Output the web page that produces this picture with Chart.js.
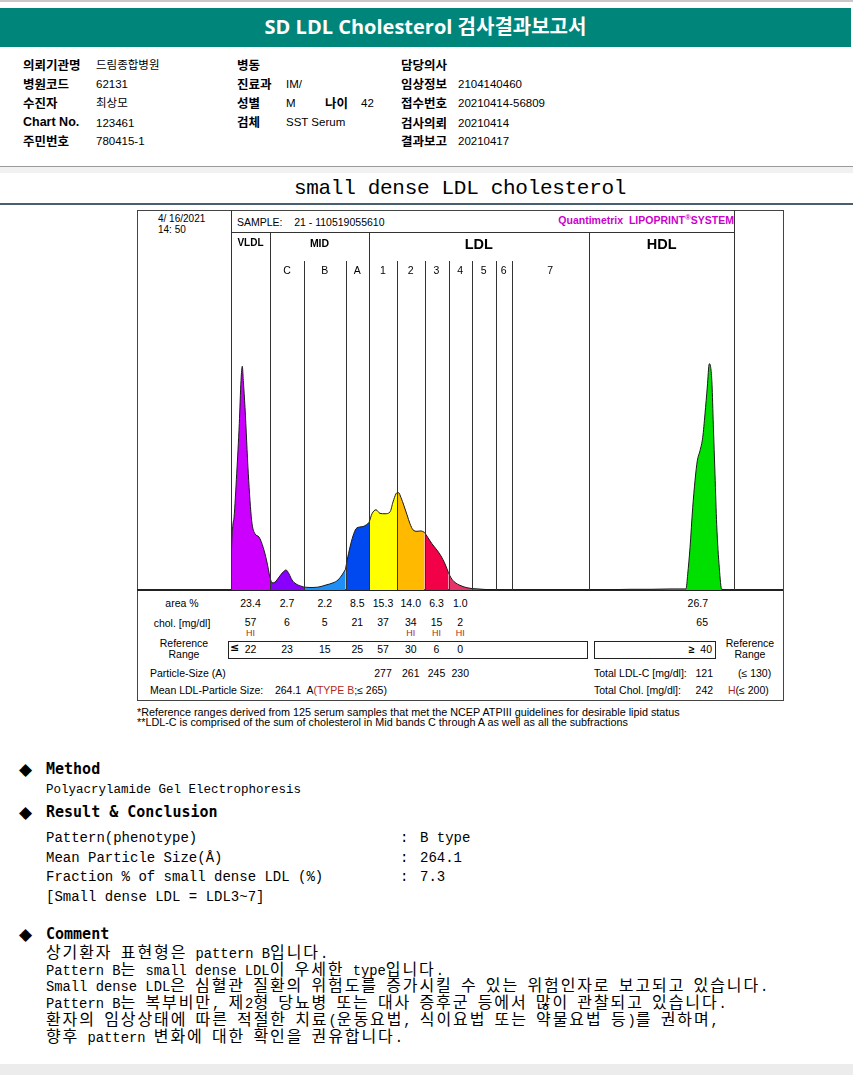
<!DOCTYPE html>
<html>
<head>
<meta charset="utf-8">
<script src="https://cdn.jsdelivr.net/npm/chart.js@4.4.0/dist/chart.umd.min.js"></script>
<style>
  body { margin: 0; background: #fff; }
  #page { position: relative; width: 853px; height: 1075px; overflow: hidden; font-family: "Liberation Sans", Arial, sans-serif; color: #000; }
  .t { position: absolute; white-space: pre; line-height: 16px; }
  .ln { position: absolute; background: #333; }
  .lb { font: bold 12.5px "Noto Sans CJK KR", sans-serif; margin-top: -2px; }
  .lbl { font: bold 12.5px "Liberation Sans", Arial, sans-serif; }
  .vl { font-size: 11.5px; font-family: "Liberation Sans", "Noto Sans CJK KR", sans-serif; }
  .sm { font-size: 10.5px; }
  .tb { font-size: 10.5px; }
  .hi { font-size: 9px; color: #b02a1a; }
  .red { color: #b02a1a; }
  .mono { font-family: "Liberation Mono", "Noto Sans CJK KR", monospace; }
  .head { font: bold 15px "DejaVu Sans Mono", "Noto Sans CJK KR", monospace; }
  .dia { font: 17px "DejaVu Sans", sans-serif; }
  .cl { left: 46px; font-size: 13.8px; line-height: 16px; }
  .k { font-size: 16px; letter-spacing: 1.9px; line-height: 16px; }
  #chartBox { position: absolute; left: 231px; top: 232px; width: 504px; height: 358px; }
</style>
</head>
<body>
<div id="page">
  <!-- top banner -->
  <div class="ln" style="left:0;top:0;width:853px;height:2px;background:#c8c8c8"></div>
  <div style="position:absolute;left:0;top:8px;width:851px;height:39px;background:#00857a"></div>
  <div class="t" style="left:0;top:14px;width:851px;text-align:center;font:bold 20px 'Open Sans','Noto Sans CJK KR',sans-serif;color:#fff;line-height:26px">SD LDL Cholesterol 검사결과보고서</div>

  <!-- patient info -->
  <div class="t lb" style="left:23px;top:57px">의뢰기관명</div>
  <div class="t vl" style="left:96px;top:57px">드림종합병원</div>
  <div class="t lb" style="left:23px;top:76px">병원코드</div>
  <div class="t vl" style="left:96px;top:76px">62131</div>
  <div class="t lb" style="left:23px;top:95px">수진자</div>
  <div class="t vl" style="left:96px;top:95px">최상모</div>
  <div class="t lbl" style="left:23px;top:115px">Chart No.</div>
  <div class="t vl" style="left:96px;top:115px">123461</div>
  <div class="t lb" style="left:23px;top:133px">주민번호</div>
  <div class="t vl" style="left:96px;top:133px">780415-1</div>

  <div class="t lb" style="left:237px;top:57px">병동</div>
  <div class="t lb" style="left:237px;top:76px">진료과</div>
  <div class="t vl" style="left:286px;top:76px">IM/</div>
  <div class="t lb" style="left:237px;top:95px">성별</div>
  <div class="t vl" style="left:286px;top:95px">M</div>
  <div class="t lb" style="left:325px;top:95px">나이</div>
  <div class="t vl" style="left:361px;top:95px">42</div>
  <div class="t lb" style="left:237px;top:114px">검체</div>
  <div class="t vl" style="left:286px;top:114px">SST Serum</div>

  <div class="t lb" style="left:401px;top:57px">담당의사</div>
  <div class="t lb" style="left:401px;top:76px">임상정보</div>
  <div class="t vl" style="left:458px;top:76px">2104140460</div>
  <div class="t lb" style="left:401px;top:95px">접수번호</div>
  <div class="t vl" style="left:458px;top:95px">20210414-56809</div>
  <div class="t lb" style="left:401px;top:115px">검사의뢰</div>
  <div class="t vl" style="left:458px;top:115px">20210414</div>
  <div class="t lb" style="left:401px;top:133px">결과보고</div>
  <div class="t vl" style="left:458px;top:133px">20210417</div>

  <!-- section title -->
  <div class="ln" style="left:0;top:166px;width:853px;height:1px;background:#9a9a9a"></div>
  <div class="ln" style="left:0;top:167px;width:853px;height:6px;background:#f1f1f1"></div>
  <div class="t mono" style="left:0;top:176px;width:920px;text-align:center;font-size:21px;line-height:26px;letter-spacing:-0.3px">small dense LDL cholesterol</div>
  <div class="ln" style="left:0;top:203px;width:853px;height:2px;background:#4a5f6e"></div>

  <!-- electrophoresis frame -->
  <div style="position:absolute;left:137px;top:210px;width:645px;height:489px;border:1px solid #444"></div>
  <div class="ln" style="left:231px;top:210px;width:1px;height:22px"></div>
  <div class="ln" style="left:734px;top:210px;width:1px;height:22px"></div>
  <div class="ln" style="left:231px;top:232px;width:504px;height:1px"></div>
  <div class="ln" style="left:137px;top:589px;width:646px;height:2px;background:#222"></div>
  <div class="t" style="left:158px;top:213px;line-height:11px;font-size:10px">4/ 16/2021
14: 50</div>
  <div class="t tb" style="left:237px;top:214px">SAMPLE:    21 - 110519055610</div>
  <div class="t" style="left:515px;top:214px;width:219px;text-align:right;font:bold 10.5px 'Liberation Sans',Arial,sans-serif;color:#cc00cc">Quantimetrix  LIPOPRINT<sup style="font-size:8px;line-height:0">®</sup>SYSTEM</div>

  <div id="chartBox"><canvas id="lipo" width="504" height="358"></canvas></div>

  <!-- table labels -->
  <div class="t sm" style="left:132px;top:595px;width:100px;text-align:center">area %</div>
  <div class="t sm" style="left:132px;top:615px;width:100px;text-align:center">chol. [mg/dl]</div>
  <div class="t sm" style="left:134px;top:638px;width:100px;text-align:center;line-height:11px">Reference
Range</div>
  <div style="position:absolute;left:228px;top:641px;width:358px;height:16px;border:1px solid #222"></div>
  <div style="position:absolute;left:594px;top:641px;width:120px;height:16px;border:1px solid #222"></div>
  <div class="t" style="left:230px;top:641px;font:bold 11px 'DejaVu Sans',sans-serif">≤</div>
  <div class="t tb" style="left:612px;top:641px;width:100px;text-align:right"><span style="font-weight:bold">≥</span>  40</div>
  <div class="t sm" style="left:700px;top:638px;width:100px;text-align:center;line-height:11px">Reference
Range</div>
  <div class="t sm" style="left:150px;top:665px">Particle-Size (A)</div>
  <div class="t sm" style="left:150px;top:682px">Mean LDL-Particle Size:    264.1  A<span class="red">(TYPE B</span>;≤ 265)</div>
  <div class="t sm" style="left:594px;top:665px">Total LDL-C [mg/dl]:   121</div>
  <div class="t sm" style="left:738px;top:665px">(≤ 130)</div>
  <div class="t sm" style="left:594px;top:682px">Total Chol. [mg/dl]:     242</div>
  <div class="t sm" style="left:728px;top:682px"><span class="red">H</span>(≤ 200)</div>

  <div class="t" style="left:137px;top:707px;font-size:10.8px;line-height:10px">*Reference ranges derived from 125 serum samples that met the NCEP ATPIII guidelines for desirable lipid status
**LDL-C is comprised of the sum of cholesterol in Mid bands C through A as well as all the subfractions</div>

  <!-- method / result / comment -->
  <div class="t dia" style="left:19px;top:760px;line-height:18px">◆</div>
  <div class="t head" style="left:46px;top:760px;line-height:18px">Method</div>
  <div class="t mono" style="left:46px;top:782px;font-size:12.5px">Polyacrylamide Gel Electrophoresis</div>
  <div class="t dia" style="left:19px;top:803px;line-height:18px">◆</div>
  <div class="t head" style="left:46px;top:803px;line-height:18px">Result &amp; Conclusion</div>
  <div class="t mono" style="left:46px;top:829px;font-size:14px;line-height:19.7px">Pattern(phenotype)
Mean Particle Size(Å)
Fraction % of small dense LDL (%)
[Small dense LDL = LDL3~7]</div>
  <div class="t mono" style="left:400px;top:829px;font-size:14px;line-height:19.7px">:
:
:</div>
  <div class="t mono" style="left:420px;top:829px;font-size:14px;line-height:19.7px">B type
264.1
7.3</div>
  <div class="t dia" style="left:19px;top:925px;line-height:18px">◆</div>
  <div class="t head" style="left:46px;top:925px;line-height:18px">Comment</div>
  <div class="t mono cl" style="top:946px">상기환자 표현형은 pattern B입니다.</div>
  <div class="t mono cl" style="top:962.5px">Pattern B는 small dense LDL이 우세한 type입니다.</div>
  <div class="t mono cl" style="top:979px">Small dense LDL은 심혈관 질환의 위험도를 증가시킬 수 있는 위험인자로 보고되고 있습니다.</div>
  <div class="t mono cl" style="top:996px">Pattern B는 복부비만, 제2형 당뇨병 또는 대사 증후군 등에서 많이 관찰되고 있습니다.</div>
  <div class="t mono cl" style="top:1013px">환자의 임상상태에 따른 적절한 치료(운동요법, 식이요법 또는 약물요법 등)를 권하며,</div>
  <div class="t mono cl" style="top:1029.5px">향후 pattern 변화에 대한 확인을 권유합니다.</div>
  <div style="position:absolute;left:0;top:1064px;width:853px;height:11px;background:#ececec"></div>
</div>

<script>
// bands along the gel, left to right
const bandLabels = ['VLDL', 'C', 'B', 'A', '1', '2', '3', '4', '5', '6', '7', 'HDL'];
const bandEdges = [0, 39, 73, 114.5, 138, 166, 193.5, 217.5, 241, 264.5, 281, 357.5, 504];
const bandColors = ['#cc00ff', '#8a00ff', '#1e8ef8', '#0048f0', '#ffff00', '#ffba00', '#f20048',
  '#e63468', '#b84470', '#7a4060', '#505050', '#00e000'];
const groupNames = ['VLDL', 'MID', 'LDL', 'HDL'];
const groupEdgeIdx = [0, 1, 4, 11, 12];

// densitometer trace: migration position / absorbance
const tracePos = [0, 0.3, 0.8, 2, 3, 5.7, 8.3, 10, 11.3, 12.3, 14, 17.3, 20.7, 24, 28, 32.3, 35.7,
  39, 41, 44, 48, 52, 55, 58, 61, 65,
  73, 79, 87, 95, 102, 107, 111,
  114.5, 116, 119, 122, 125, 129, 133,
  138, 141, 145, 149, 154, 159, 162, 165,
  166, 167.5, 170, 173, 176, 179, 182, 186, 190,
  193.5, 197, 201, 205, 210, 214,
  217.5, 220, 224, 229, 235,
  241, 247, 254, 264.5, 272, 281, 320,
  357.5, 380, 400, 420, 440, 455, 456.7, 459, 461.7, 464, 466.3, 469, 471.7, 474, 476.3,
  478.3, 479.7, 481, 482.3, 484, 485.7, 488.3, 490.7, 504];
const traceAbs = [0, 8, 13.7, 18.5, 20.2, 32.5, 46.5, 58.5, 62.5, 58.5, 51, 32.5, 19.3, 15.7, 14.8, 11.8, 8.1,
  3.4, 2.0, 2.2, 3.6, 5.0, 5.6, 4.5, 2.8, 1.7,
  0.8, 0.7, 0.8, 1.4, 2.0, 2.8, 4.2,
  5.8, 8.1, 12.0, 15.1, 17.1, 17.6, 17.8,
  18.8, 21.3, 22.4, 21.4, 21.3, 21.8, 24.6, 26.9,
  27.2, 27.2, 25.8, 23.5, 21.0, 18.5, 16.8, 16.4, 16.5,
  16.1, 14.6, 12.9, 11.5, 9.5, 7.3,
  4.8, 3.4, 2.1, 1.3, 0.7,
  0.4, 0.3, 0.15, 0.1, 0.05, 0, 0,
  0, 0.1, 0.2, 0.2, 0.3, 0.3, 4.4, 11.8, 23.0, 30.5, 36.1, 38.9, 42.6, 49.2, 56.7,
  63.2, 62.2, 57.5, 46.3, 32.3, 18.3, 6.2, 0.2, 0];

// table rows, one entry per band
const areaPct = ['23.4', '2.7', '2.2', '8.5', '15.3', '14.0', '6.3', '1.0', '', '', '', '26.7'];
const cholMgdl = ['57', '6', '5', '21', '37', '34', '15', '2', '', '', '', '65'];
const cholFlag = ['HI', '', '', '', '', 'HI', 'HI', 'HI', '', '', '', ''];
const refLimit = ['22', '23', '15', '25', '57', '30', '6', '0', '', '', '', ''];
const particleSize = ['', '', '', '', '277', '261', '245', '230', '', '', '', ''];
const hdlAnchor = 477;

const datasets = bandLabels.map((name, i) => {
  const lo = bandEdges[i], hi = bandEdges[i + 1];
  const pts = [];
  tracePos.forEach((p, k) => {
    if (p >= lo && p <= hi) pts.push({ x: p, y: traceAbs[k] });
  });
  return {
    label: name,
    data: pts,
    backgroundColor: bandColors[i],
    borderColor: '#1a1a1a',
    borderWidth: 1,
    fill: 'origin',
    pointRadius: 0,
    cubicInterpolationMode: 'monotone'
  };
});

const dividerPlugin = {
  id: 'bandDividers',
  afterDatasetsDraw(chart) {
    const { ctx, chartArea, scales: { x } } = chart;
    ctx.save();
    ctx.strokeStyle = '#333';
    ctx.lineWidth = 1;
    bandEdges.forEach((edge, i) => {
      let px = Math.round(x.getPixelForValue(edge)) + 0.5;
      if (i === 0) px = chartArea.left + 0.5;
      if (i === bandEdges.length - 1) px = chartArea.right - 0.5;
      const top = groupEdgeIdx.includes(i) ? chartArea.top : chartArea.top + 29;
      ctx.beginPath();
      ctx.moveTo(px, top);
      ctx.lineTo(px, chartArea.bottom);
      ctx.stroke();
    });
    ctx.restore();
  }
};

const chart = new Chart(document.getElementById('lipo'), {
  type: 'line',
  data: { datasets },
  options: {
    responsive: false,
    animation: false,
    layout: { padding: 0 },
    plugins: { legend: { display: false }, tooltip: { enabled: false } },
    scales: {
      x: { type: 'linear', min: 0, max: 504, display: false },
      y: { min: 0, max: 100, display: false }
    }
  },
  plugins: [dividerPlugin]
});

const page = document.getElementById('page');
const boxLeft = 231;

function put(text, cx, cy, cls, align) {
  if (!text) return;
  const d = document.createElement('div');
  d.className = 't ' + (cls || '');
  d.textContent = text;
  d.style.top = (cy - 8) + 'px';
  if (align === 'right') {
    d.style.left = (cx - 100) + 'px';
    d.style.width = '100px';
    d.style.textAlign = 'right';
  } else {
    d.style.left = (cx - 50) + 'px';
    d.style.width = '100px';
    d.style.textAlign = 'center';
  }
  page.appendChild(d);
}

function xPix(v) {
  return boxLeft + chart.scales.x.getPixelForValue(v);
}

// header labels
const groupFont = ['bold 10px', 'bold 10.5px', 'bold 14.5px', 'bold 14.5px'];
groupNames.forEach((g, j) => {
  const c = (bandEdges[groupEdgeIdx[j]] + bandEdges[groupEdgeIdx[j + 1]]) / 2;
  put(g, xPix(c), j < 2 ? 245 : 244, '', 'center');
  page.lastChild.style.font = groupFont[j] + ' "Liberation Sans", Arial, sans-serif';
});
bandLabels.forEach((b, i) => {
  if (i === 0 || i === bandLabels.length - 1) return;
  put(b, xPix((bandEdges[i] + bandEdges[i + 1]) / 2), 270, 'sm', 'center');
});

// table values
bandLabels.forEach((b, i) => {
  const isHdl = i === bandLabels.length - 1;
  const cx = isHdl ? xPix(hdlAnchor) : xPix((bandEdges[i] + bandEdges[i + 1]) / 2);
  const al = isHdl ? 'right' : 'center';
  put(areaPct[i], cx, 603, 'tb', al);
  put(cholMgdl[i], cx, 622, 'tb', al);
  put(cholFlag[i], cx, 633, 'hi', al);
  put(refLimit[i], cx, 649, 'tb', al);
  put(particleSize[i], cx, 673, 'tb', al);
});

// hangul is set wider than the latin text in the comment lines
document.querySelectorAll('.cl').forEach(el => {
  el.innerHTML = el.textContent.replace(/[\uac00-\ud7af]+/g, m => '<span class="k">' + m + '</span>');
});
</script>
</body>
</html>
